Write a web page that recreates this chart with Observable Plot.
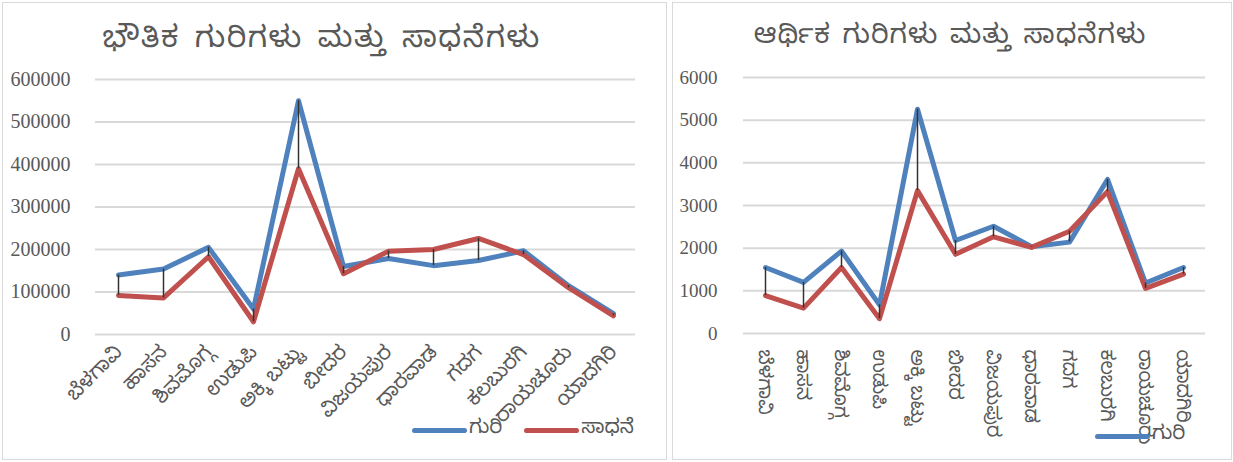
<!DOCTYPE html>
<html>
<head>
<meta charset="utf-8">
<script src="https://cdn.jsdelivr.net/npm/d3@7"></script>
<script src="https://cdn.jsdelivr.net/npm/@observablehq/plot@0.6"></script>
<style>
  html, body { margin:0; padding:0; background:#fff; }
  body { width:1233px; height:462px; position:relative; overflow:hidden;
         font-family:"Noto Sans Kannada","Noto Serif Kannada","Noto Sans",sans-serif; color:#595959; }
  .panel { position:absolute; border:1px solid #d9d9d9; background:#fff; box-sizing:border-box; }
  .title { position:absolute; left:0; right:0; text-align:center; color:#595959; white-space:nowrap; }
  .chart { position:absolute; left:0; top:0; }
  .leg { position:absolute; display:flex; align-items:center; font-size:20px; color:#595959; white-space:nowrap; }
  .sw { display:inline-block; width:55px; height:5px; border-radius:3px; margin-right:2px; }
  svg g[aria-label='y-axis tick label'] text { font-family:'Liberation Serif','DejaVu Serif',serif !important; }
</style>
</head>
<body>
<div id="p1" class="panel" style="left:2px;top:2px;width:665px;height:458px;"></div>
<div id="p2" class="panel" style="left:672px;top:2px;width:560px;height:458px;"></div>
<script>
const categories = ["ಬೆಳಗಾವಿ","ಹಾಸನ","ಶಿವಮೊಗ್ಗ","ಉಡುಪಿ","ಅಕ್ಕಿ ಬಟ್ಟು","ಬೀದರ","ವಿಜಯಪುರ","ಧಾರವಾಡ","ಗದಗ","ಕಲಬುರಗಿ","ರಾಯಚೂರು","ಯಾದಗಿರಿ"];
const physicalTarget = [140000,154000,205000,60000,550000,160000,179000,162000,174000,197000,115000,49000];
const physicalAchieved = [92000,86000,183000,30000,390000,143000,196000,200000,226000,188000,110000,44000];
const financialTarget = [1546,1198,1932,672,5255,2180,2513,2034,2142,3611,1183,1546];
const financialAchieved = [889,595,1546,348,3349,1856,2266,2018,2397,3325,1059,1392];
const physicalTicks = [0,100000,200000,300000,400000,500000,600000];
const financialTicks = [0,1000,2000,3000,4000,5000,6000];
const title1 = "ಭೌತಿಕ ಗುರಿಗಳು ಮತ್ತು ಸಾಧನೆಗಳು";
const title2 = "ಆರ್ಥಿಕ ಗುರಿಗಳು ಮತ್ತು ಸಾಧನೆಗಳು";
const targetLabel = "ಗುರಿ";
const achievedLabel = "ಸಾಧನೆ";

const BLUE = "#4F81BD", RED = "#C0504D", GRID = "#d9d9d9";
const KFONT = "'Noto Sans Kannada','Noto Serif Kannada','Noto Sans',sans-serif";
const NFONT = "'Liberation Serif','DejaVu Serif',serif";

function build(target, achieved, ticks, opts) {
  const rows = categories.map((c, i) => ({c, t: target[i], a: achieved[i]}));
  return Plot.plot({
    width: opts.width, height: opts.height,
    marginLeft: opts.ml, marginRight: opts.mr, marginTop: opts.mt, marginBottom: opts.mb,
    style: {fontFamily: NFONT, fontSize: opts.yfs + "px", color: "#595959", background: "transparent", overflow: "visible"},
    x: {type: "point", domain: categories, padding: 0.5, label: null,
        tickSize: 0, tickPadding: opts.xpad, tickRotate: opts.rot},
    y: {domain: [ticks[0], ticks[ticks.length-1]], ticks: ticks, tickFormat: d => String(d),
        label: null, tickSize: 0, tickPadding: opts.ypad},
    marks: [
      Plot.ruleY(ticks, {stroke: GRID, strokeWidth: 2}),
      Plot.lineY(rows, {x: "c", y: "t", stroke: BLUE, strokeWidth: 5, strokeLinecap: "round", strokeLinejoin: "round"}),
      Plot.lineY(rows, {x: "c", y: "a", stroke: RED, strokeWidth: 5, strokeLinecap: "round", strokeLinejoin: "round"}),
      Plot.ruleX(rows, {x: "c", y1: "t", y2: "a", stroke: "#333", strokeWidth: 1.5})
    ]
  });
}

function styleTicks(svg, xfs, yfs) {
  svg.querySelectorAll("g[aria-label='x-axis tick label']").forEach(g => {
    g.setAttribute("fill", "#595959");
    g.style.fontFamily = KFONT; g.style.fontSize = xfs + "px";
  });
  svg.querySelectorAll("g[aria-label='y-axis tick label']").forEach(g => {
    g.setAttribute("fill", "#595959");
    g.style.fontFamily = NFONT; g.style.fontSize = yfs + "px";
  });
}

// Panel 1
const p1 = document.getElementById("p1");
const c1 = build(physicalTarget, physicalAchieved, physicalTicks,
  {width: 663, height: 456, ml: 92, mr: 31, mt: 76, mb: 125, xpad: 14, ypad: 25, rot: -45, yfs: 20});
c1.classList.add("chart");
styleTicks(c1, 20, 20);
p1.appendChild(c1);
const t1 = document.createElement("div");
t1.className = "title"; t1.textContent = title1;
t1.style.cssText += "top:20px;font-size:30px;letter-spacing:1.5px;word-spacing:5px;left:-26px;";
p1.appendChild(t1);
const l1 = document.createElement("div");
l1.className = "leg"; l1.style.left = "409px"; l1.style.top = "414px";
l1.innerHTML = `<span class="sw" style="background:${BLUE}"></span><span style="margin-right:22px">${targetLabel}</span><span class="sw" style="background:${RED}"></span><span>${achievedLabel}</span>`;
p1.appendChild(l1);

// Panel 2
const p2 = document.getElementById("p2");
const c2 = build(financialTarget, financialAchieved, financialTicks,
  {width: 558, height: 456, ml: 70, mr: 26, mt: 74, mb: 126, xpad: 16, ypad: 26, rot: 90, yfs: 19});
c2.classList.add("chart");
styleTicks(c2, 19, 19);
p2.appendChild(c2);
const t2 = document.createElement("div");
t2.className = "title"; t2.textContent = title2;
t2.style.cssText += "top:18px;font-size:27px;letter-spacing:1px;word-spacing:3px;left:-4px;";
p2.appendChild(t2);
const l2 = document.createElement("div");
l2.className = "leg"; l2.style.left = "422px"; l2.style.top = "420px";
l2.innerHTML = `<span class="sw" style="background:${BLUE}"></span><span>${targetLabel}</span>`;
p2.appendChild(l2);
</script>
</body>
</html>
